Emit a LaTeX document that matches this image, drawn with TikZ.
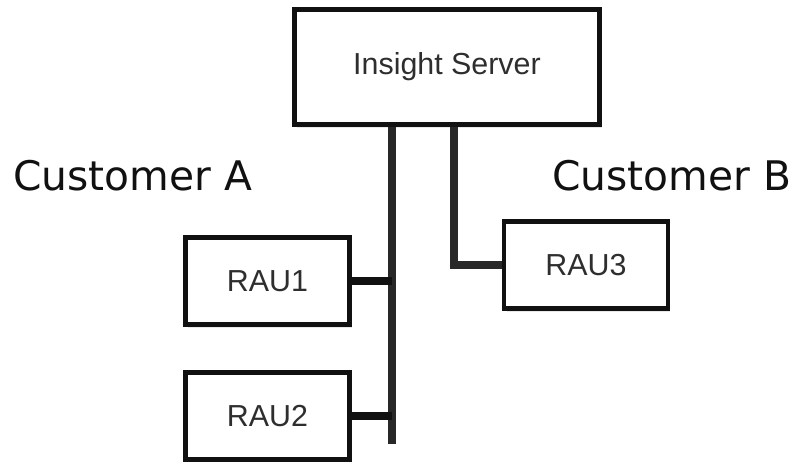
\documentclass[tikz,border=0pt]{standalone}
\usepackage{fontspec}
\usepackage{tikz}
\usepackage{xcolor}
\usetikzlibrary{positioning,calc,shadows}
\setmainfont{Liberation Sans}
\newfontfamily\custfont{DejaVu Sans}
\definecolor{ink}{HTML}{111111}
\definecolor{textgray}{HTML}{2E2E2E}
\definecolor{busgray}{HTML}{282828}
\tikzset{
  serverbox/.style={draw=ink,fill=white,line width=2.8pt,
                    minimum width=6.1cm,minimum height=2.3cm,
                    align=center,font=\fontsize{17.3}{20}\selectfont,
                    text=textgray,inner sep=0pt,
                    drop shadow={opacity=0.18,shadow xshift=0.5mm,shadow yshift=-0.7mm}},
  raubox/.style={draw=ink,fill=white,line width=2.8pt,
                 minimum width=3.28cm,minimum height=1.74cm,
                 align=center,font=\fontsize{17.3}{20}\selectfont,
                 text=textgray,inner sep=0pt,
                 drop shadow={opacity=0.18,shadow xshift=0.5mm,shadow yshift=-0.7mm}},
  custlabel/.style={font=\custfont\fontsize{23.2}{27}\selectfont,text=ink,
                    inner sep=0pt,anchor=base west},
  bus/.style={draw=busgray,line width=5pt},
  stub/.style={draw=ink,line width=4pt}
}
\begin{document}
\begin{tikzpicture}[x=0.02cm,y=-0.02cm]
  \useasboundingbox (0,0) rectangle (799,461);
  \node[serverbox] (server) at (447,67) {Insight Server};
  \node[raubox] (rau1) at (267.5,281) {RAU1};
  \node[raubox] (rau2) at (267.5,416) {RAU2};
  \node[raubox] (rau3) at (586,265) {RAU3};
  \node[custlabel] (custA) at (13,190) {Customer A};
  \node[custlabel] (custB) at (552,190) {Customer B};
  % customer A bus
  \coordinate (busend) at (392,444);
  \draw[bus] (server.south -| busend) -- (busend);
  \draw[stub] (rau1.east) -- (rau1.east -| busend);
  \draw[stub] (rau2.east) -- (rau2.east -| busend);
  % customer B link
  \coordinate (bend) at (454,265);
  \draw[bus] (server.south -| bend) -- (bend) -- (rau3.west);
\end{tikzpicture}
\end{document}
